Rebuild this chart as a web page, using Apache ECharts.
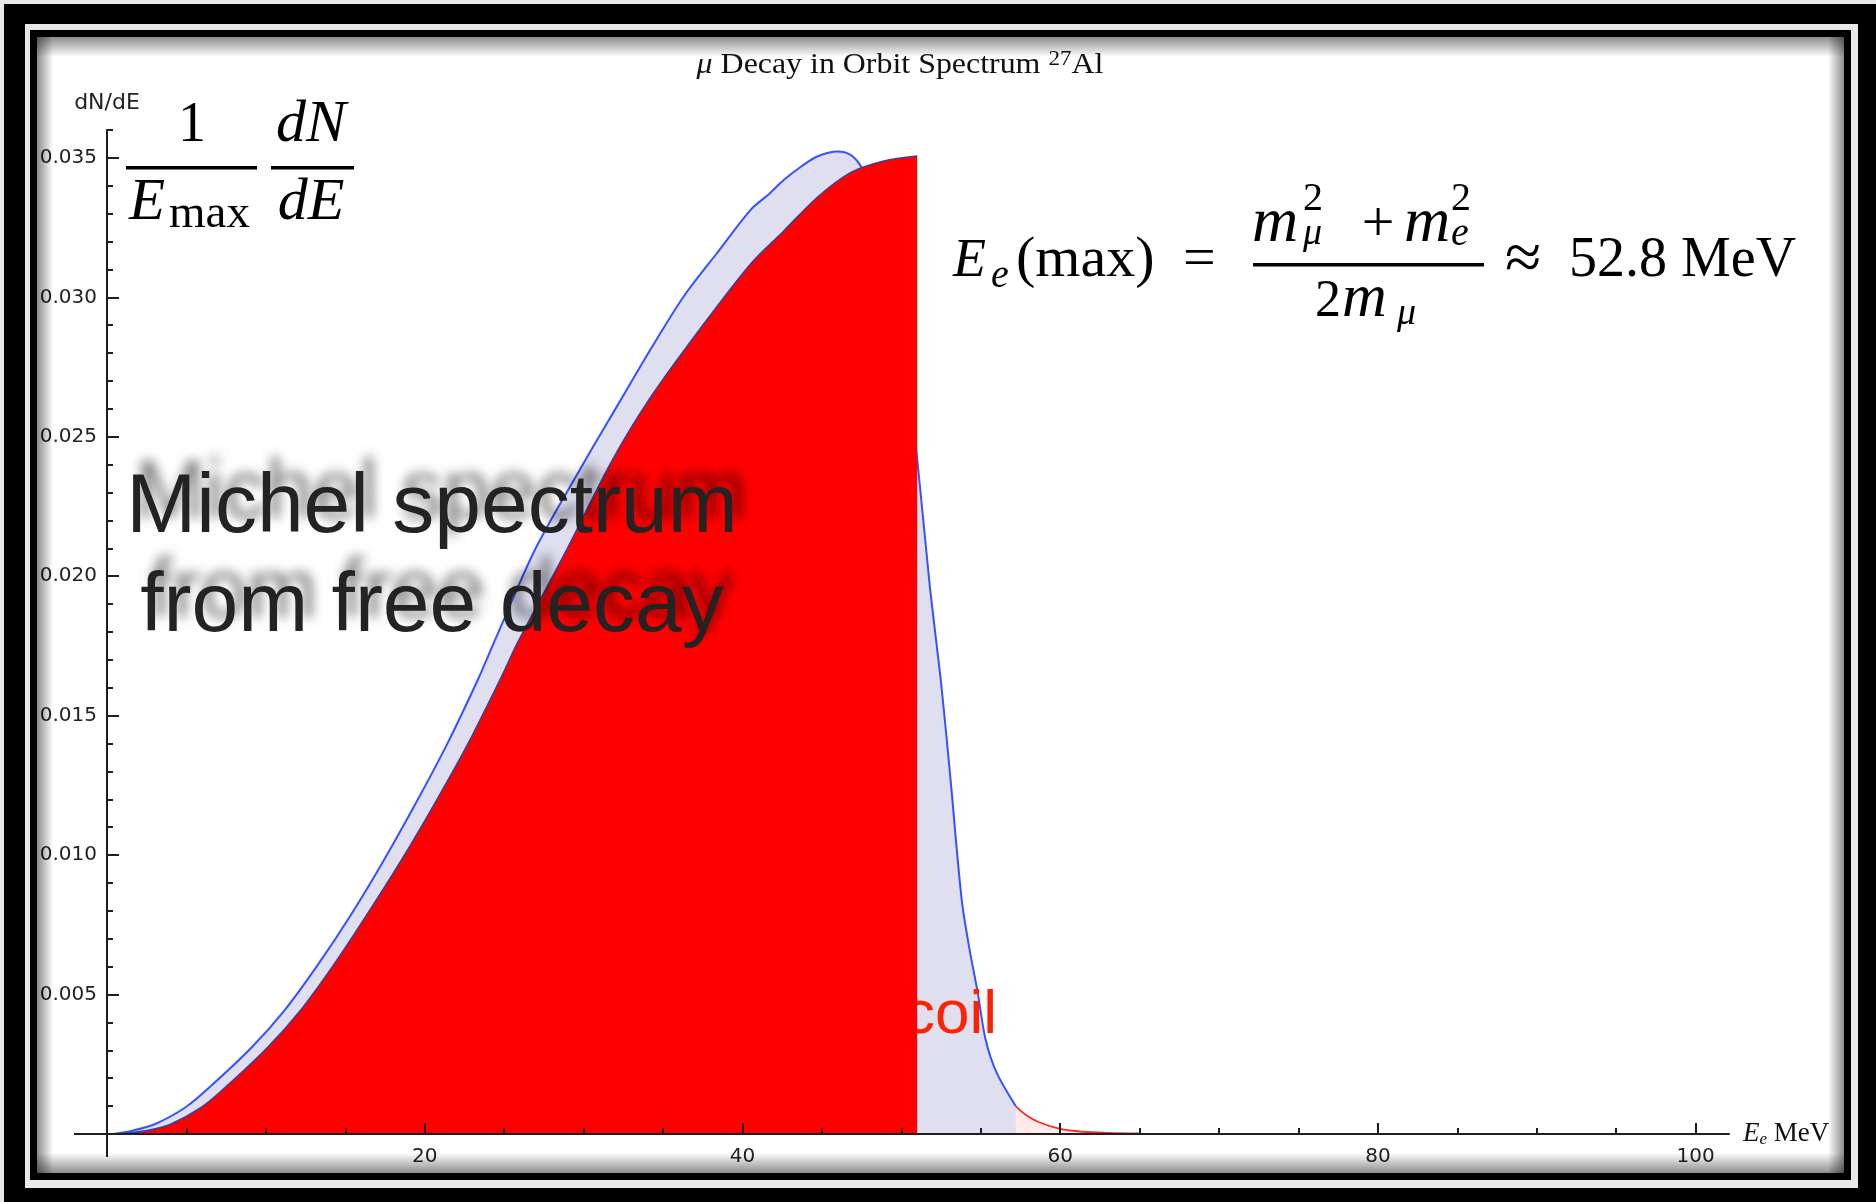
<!DOCTYPE html>
<html>
<head>
<meta charset="utf-8">
<script src="https://cdn.jsdelivr.net/npm/echarts@6/dist/echarts.min.js"></script>
<style>
html,body{margin:0;padding:0;background:#e8e8e8;}
#c{width:1876px;height:1202px;}
</style>
</head>
<body>
<div id="c"></div>
<script>
// ---- data ----
// Michel spectrum (free muon decay), E in MeV, 1/Emax dN/dE
const michelE = [0.8, 2.5, 4.0, 5.9, 7.5, 10.1, 12.2, 14.3, 16.4, 18.5, 20.6, 22.7, 24.8, 25.9, 29.0, 31.7, 34.2, 37.4, 40.5, 42.6, 44.7, 46.8, 48.9, 51.0];
const michelY = [0, 0.00012, 0.00035, 0.00094, 0.00170, 0.00310, 0.00445, 0.00609, 0.00790, 0.00979, 0.01182, 0.01397, 0.01636, 0.01768, 0.02102, 0.02405, 0.02640, 0.02892, 0.03119, 0.03238, 0.03358, 0.03447, 0.03489, 0.03507];
// Decay in orbit spectrum, 27Al
const dioE = [0.4, 1.6, 3.0, 4.9, 6.5, 9.1, 11.2, 13.3, 15.4, 17.4, 19.4, 21.4, 23.4, 24.4, 27.0, 30.0, 32.1, 34.2, 36.3, 38.4, 40.5, 41.6, 42.6, 43.7, 44.7, 46.0, 46.8, 47.4, 48.2, 49.0, 50.0, 51.0, 51.8, 52.5, 53.1, 53.8, 54.3, 54.8, 55.3, 56.0, 57.2];
const dioY = [0, 0.00012, 0.00035, 0.00094, 0.00170, 0.00310, 0.00445, 0.00609, 0.00790, 0.00979, 0.01182, 0.01397, 0.01636, 0.01768, 0.02102, 0.02405, 0.02609, 0.02812, 0.03003, 0.03159, 0.03313, 0.03367, 0.03421, 0.03469, 0.03505, 0.03523, 0.03511, 0.03475, 0.0338, 0.0322, 0.0290, 0.0242, 0.0196, 0.0162, 0.0127, 0.0084, 0.0066, 0.0051, 0.0034, 0.0022, 0.0010];
// high-energy tail (red)
const tailE = [57.2, 57.8, 58.6, 60.0, 61.4, 63.0, 65.0];
const tailY = [0.0010, 0.0007, 0.00044, 0.00018, 0.00008, 0.00004, 0.00002];
// tick values
const xMajorTicks = [20, 40, 60, 80, 100];
const xMinorTicks = [5, 10, 15, 25, 30, 35, 45, 50, 55, 65, 70, 75, 85, 90, 95];
const yMajorTicks = [0.005, 0.010, 0.015, 0.020, 0.025, 0.030, 0.035];
const yMinorTicks = [0.001, 0.002, 0.003, 0.004, 0.006, 0.007, 0.008, 0.009, 0.011, 0.012, 0.013, 0.014, 0.016, 0.017, 0.018, 0.019, 0.021, 0.022, 0.023, 0.024, 0.026, 0.027, 0.028, 0.029, 0.031, 0.032, 0.033, 0.034, 0.036];
const xRange = [0, 102.1];
const yRange = [0, 0.036];

const pairs = (xs, ys) => xs.map((x, i) => [x, ys[i]]);

const chart = echarts.init(document.getElementById('c'), null, {renderer: 'canvas'});
const axisCol = '#1e1e1e';
const tickFont = {fontFamily: 'DejaVu Sans', fontSize: 20, color: '#222'};
const serif = '"Liberation Serif", "Times New Roman", serif';
const sans = '"Liberation Sans", Arial, sans-serif';

function txt(x, y, text, font, align) {
  return {
    type: 'text', x: x, y: y, z: 12, silent: true,
    style: {text: text, font: font, fill: '#000', align: align || 'left', verticalAlign: 'middle'}
  };
}
function bar(x, y, w, h) {
  return {type: 'rect', z: 12, silent: true, shape: {x: x, y: y, width: w, height: h}, style: {fill: '#000'}};
}
function grad(x, y, w, h, horiz, c0, c1) {
  return {type: 'rect', z: 30, silent: true, shape: {x: x, y: y, width: w, height: h},
    style: {fill: new echarts.graphic.LinearGradient(0, 0, horiz ? 1 : 0, horiz ? 0 : 1, [{offset: 0, color: c0}, {offset: 1, color: c1}])}};
}
function seg(x1, y1, x2, y2) {
  return {type: 'line', z: 8, silent: true, shape: {x1: x1, y1: y1, x2: x2, y2: y2}, style: {stroke: axisCol, lineWidth: 2}};
}
const sh = 'rgba(0,0,0,0.45)', clr = 'rgba(0,0,0,0)';

const option = {
  backgroundColor: '#e8e8e8',
  animation: false,
  grid: {left: 107, right: 147, top: 130, bottom: 68, containLabel: false},
  xAxis: [
    {
      type: 'value', min: xRange[0], max: xRange[1], z: 8,
      axisLine: {onZero: false, lineStyle: {color: axisCol, width: 2}},
      axisTick: {show: true, inside: true, length: 11, customValues: xMajorTicks, lineStyle: {color: axisCol, width: 2}},
      axisLabel: {customValues: xMajorTicks, margin: 13, ...tickFont},
      splitLine: {show: false},
      name: '{e|E}{s|e}{m| MeV}', nameLocation: 'end', nameGap: 14,
      nameTextStyle: {
        rich: {
          e: {fontFamily: serif, fontStyle: 'italic', fontSize: 27, lineHeight: 28, verticalAlign: 'top', color: '#111'},
          s: {fontFamily: serif, fontStyle: 'italic', fontSize: 17, lineHeight: 17, verticalAlign: 'bottom', color: '#111'},
          m: {fontFamily: serif, fontSize: 27, lineHeight: 28, verticalAlign: 'top', color: '#111'}
        },
        lineHeight: 34
      }
    },
    {
      type: 'value', min: xRange[0], max: xRange[1], position: 'bottom', z: 8,
      axisLine: {show: false, onZero: false},
      axisTick: {show: true, inside: true, length: 6, customValues: xMinorTicks, lineStyle: {color: axisCol, width: 2}},
      axisLabel: {show: false}, splitLine: {show: false}
    }
  ],
  yAxis: [
    {
      type: 'value', min: yRange[0], max: yRange[1], z: 8,
      axisLine: {onZero: false, lineStyle: {color: axisCol, width: 2}},
      axisTick: {show: true, inside: true, length: 12, customValues: yMajorTicks, lineStyle: {color: axisCol, width: 2}},
      axisLabel: {customValues: yMajorTicks, margin: 10, formatter: v => v.toFixed(3), ...tickFont},
      splitLine: {show: false},
      name: 'dN/dE', nameLocation: 'end', nameGap: 16,
      nameTextStyle: {fontFamily: 'DejaVu Sans', fontSize: 22, color: '#222'}
    },
    {
      type: 'value', min: yRange[0], max: yRange[1], position: 'left', z: 8,
      axisLine: {show: false, onZero: false},
      axisTick: {show: true, inside: true, length: 6, customValues: yMinorTicks, lineStyle: {color: axisCol, width: 2}},
      axisLabel: {show: false}, splitLine: {show: false}
    }
  ],
  series: [
    {
      type: 'line', name: 'DIO 27Al', xAxisIndex: 0, yAxisIndex: 0, z: 2,
      data: pairs(dioE, dioY), smooth: 0.3, symbol: 'none',
      lineStyle: {color: '#3552ff', width: 2},
      areaStyle: {color: '#dfdff0', opacity: 1}
    },
    {
      type: 'line', name: 'Michel', xAxisIndex: 0, yAxisIndex: 0, z: 5,
      data: pairs(michelE, michelY), smooth: 0.3, symbol: 'none',
      lineStyle: {color: '#3a3f98', width: 1.6},
      areaStyle: {color: '#ff0000', opacity: 1}
    },
    {
      type: 'line', name: 'tail', xAxisIndex: 0, yAxisIndex: 0, z: 3,
      data: pairs(tailE, tailY), smooth: 0.3, symbol: 'none',
      lineStyle: {color: '#ff2a2a', width: 1.8},
      areaStyle: {color: 'rgba(255,0,0,0.12)'}
    }
  ],
  graphic: [
    // frame
    {type: 'rect', z: -10, silent: true, shape: {x: 4, y: 4, width: 1880, height: 1210}, style: {fill: '#000'}},
    {type: 'rect', z: -9, silent: true, shape: {x: 25, y: 24, width: 1833, height: 1164}, style: {fill: '#e8e8e8'}},
    {type: 'rect', z: -8, silent: true, shape: {x: 30, y: 30, width: 1821, height: 1150}, style: {fill: '#000'}},
    {type: 'rect', z: -7, silent: true, shape: {x: 37, y: 37, width: 1807, height: 1136}, style: {fill: '#fff'}},
    grad(37, 37, 1807, 20, false, sh, clr),
    grad(37, 1153, 1807, 20, false, clr, sh),
    grad(37, 37, 16, 1136, true, sh, clr),
    grad(1828, 37, 16, 1136, true, clr, sh),
    // axis overhang past the origin
    seg(74, 1134, 108, 1134),
    seg(107, 1133, 107, 1157),
    // title
    {
      type: 'text', x: 900, y: 64, scaleX: 1.1, z: 12, silent: true,
      style: {
        text: '{mu|μ}{t| Decay in Orbit Spectrum }{s|27}{t|Al}', align: 'center', verticalAlign: 'middle',
        rich: {
          mu: {fontFamily: serif, fontStyle: 'italic', fontSize: 29, lineHeight: 31, verticalAlign: 'bottom', fill: '#111'},
          t: {fontFamily: serif, fontSize: 29, lineHeight: 31, verticalAlign: 'bottom', fill: '#111'},
          s: {fontFamily: serif, fontSize: 21, lineHeight: 20, verticalAlign: 'top', fill: '#111'}
        }
      }
    },
    // 1/Emax dN/dE
    txt(192, 126, '1', '56px ' + serif, 'center'),
    bar(126, 166, 131, 3.5),
    txt(129, 203, 'E', 'italic 59px ' + serif),
    txt(169, 215, 'max', '47px ' + serif),
    txt(311, 125, 'dN', 'italic 60px ' + serif, 'center'),
    bar(271, 166, 83, 3.5),
    txt(311, 203, 'dE', 'italic 60px ' + serif, 'center'),
    // Ee(max) formula
    txt(953, 262, 'E', 'italic 54px ' + serif),
    txt(991, 276, 'e', 'italic 40px ' + serif),
    txt(1016, 261, '(max)', '58px ' + serif),
    txt(1183, 261, '=', '58px ' + serif),
    txt(1252, 224, 'm', 'italic 64px ' + serif),
    txt(1303, 199, '2', '40px ' + serif),
    txt(1303, 234, 'μ', 'italic 38px ' + serif),
    txt(1378, 226, '+', '58px ' + serif, 'center'),
    txt(1404, 224, 'm', 'italic 64px ' + serif),
    txt(1451, 199, '2', '40px ' + serif),
    txt(1451, 234, 'e', 'italic 40px ' + serif),
    bar(1253, 263, 231, 3.5),
    txt(1315, 302, '2', '52px ' + serif),
    txt(1342, 300, 'm', 'italic 62px ' + serif),
    txt(1397, 314, 'μ', 'italic 38px ' + serif),
    txt(1505, 262, '≈', '66px ' + serif),
    txt(1569, 261, '52.8 MeV', '56px ' + serif),
    // Michel label
    {
      type: 'text', x: 432, y: 558, z: 14, silent: true,
      style: {
        text: 'Michel spectrum\nfrom free decay', font: '84px ' + sans, lineHeight: 99,
        fill: '#232323', align: 'center', verticalAlign: 'middle',
        textShadowColor: 'rgba(0,0,0,0.55)', textShadowBlur: 12, textShadowOffsetX: 9, textShadowOffsetY: -14
      }
    },
    // Recoil label (partly hidden behind the red area)
    {
      type: 'text', x: 997, y: 1016, z: 4, silent: true,
      style: {text: 'Recoil', font: '62px ' + sans, fill: '#ff2200', align: 'right', verticalAlign: 'middle'}
    }
  ]
};
chart.setOption(option);
</script>
</body>
</html>
